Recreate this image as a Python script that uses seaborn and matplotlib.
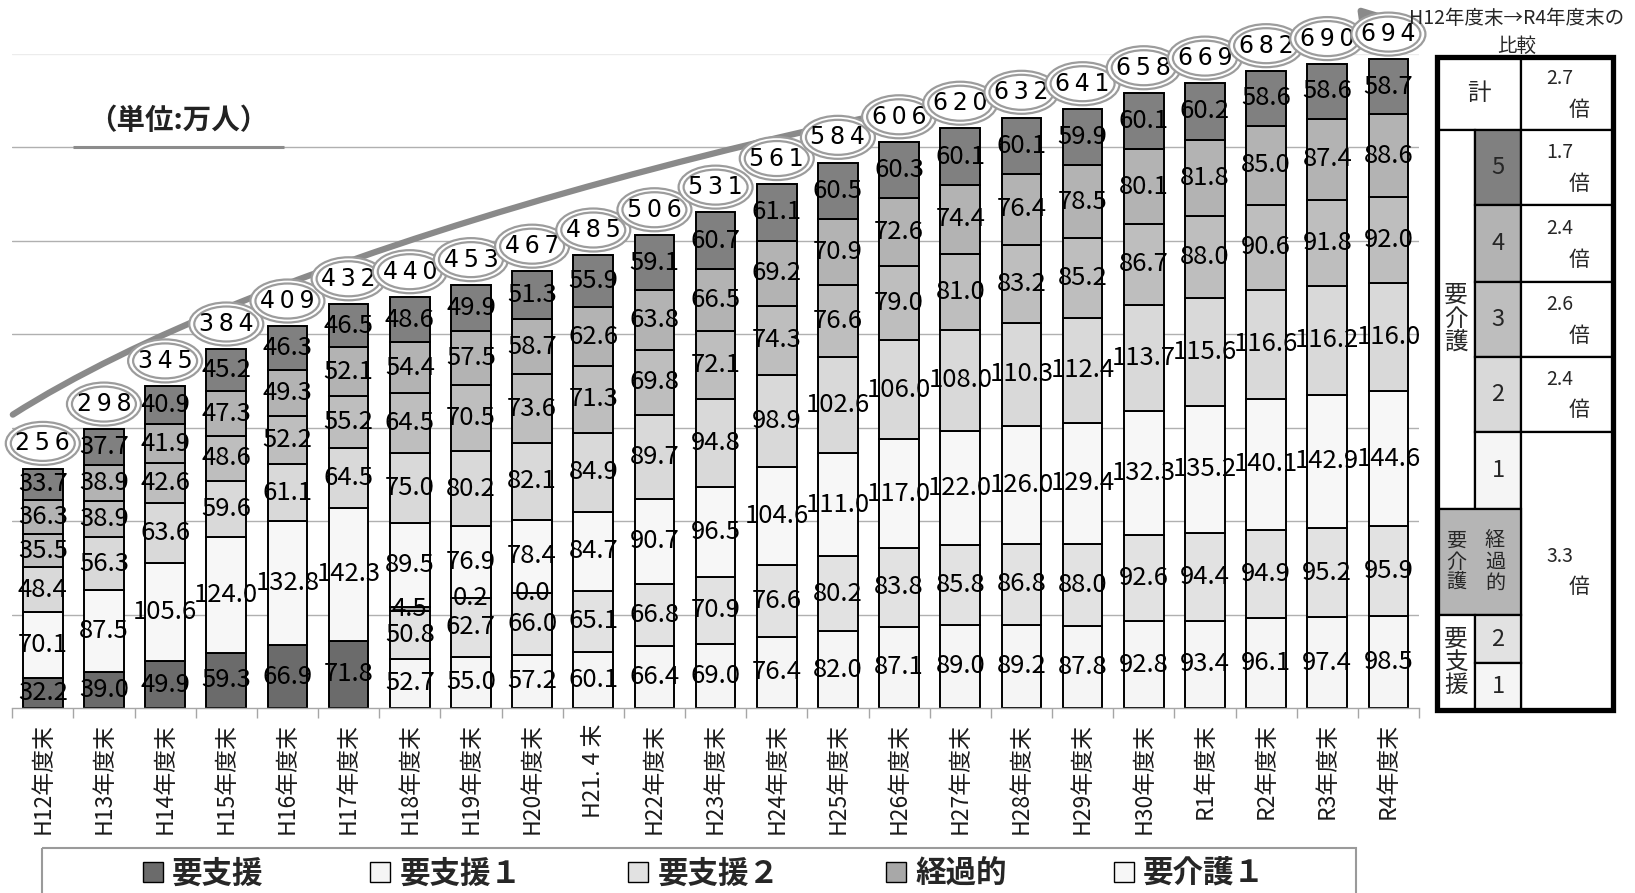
import numpy as np
import pandas as pd
import matplotlib
matplotlib.use("Agg")
import matplotlib.pyplot as plt
import seaborn as sns
from matplotlib.patches import Ellipse, Rectangle, FancyArrowPatch, Patch
from matplotlib.path import Path
from matplotlib import font_manager
from matplotlib.font_manager import FontProperties

# ---------------- data ----------------
categories = ["H12年度末", "H13年度末", "H14年度末", "H15年度末", "H16年度末", "H17年度末",
              "H18年度末", "H19年度末", "H20年度末", "H21. 4 末", "H22年度末", "H23年度末",
              "H24年度末", "H25年度末", "H26年度末", "H27年度末", "H28年度末", "H29年度末",
              "H30年度末", "R1年度末", "R2年度末", "R3年度末", "R4年度末"]
nan = np.nan
yoshien = [32.2, 39.0, 49.9, 59.3, 66.9, 71.8] + [nan] * 17
yoshien1 = [nan] * 6 + [52.7, 55.0, 57.2, 60.1, 66.4, 69.0, 76.4, 82.0, 87.1, 89.0, 89.2,
                        87.8, 92.8, 93.4, 96.1, 97.4, 98.5]
yoshien2 = [nan] * 6 + [50.8, 62.7, 66.0, 65.1, 66.8, 70.9, 76.6, 80.2, 83.8, 85.8, 86.8,
                        88.0, 92.6, 94.4, 94.9, 95.2, 95.9]
keikateki = [nan] * 6 + [4.5, 0.2, 0.0] + [nan] * 14
kaigo1 = [70.1, 87.5, 105.6, 124.0, 132.8, 142.3, 89.5, 76.9, 78.4, 84.7, 90.7, 96.5,
          104.6, 111.0, 117.0, 122.0, 126.0, 129.4, 132.3, 135.2, 140.1, 142.9, 144.6]
kaigo2 = [48.4, 56.3, 63.6, 59.6, 61.1, 64.5, 75.0, 80.2, 82.1, 84.9, 89.7, 94.8,
          98.9, 102.6, 106.0, 108.0, 110.3, 112.4, 113.7, 115.6, 116.6, 116.2, 116.0]
kaigo3 = [35.5, 38.9, 42.6, 48.6, 52.2, 55.2, 64.5, 70.5, 73.6, 71.3, 69.8, 72.1,
          74.3, 76.6, 79.0, 81.0, 83.2, 85.2, 86.7, 88.0, 90.6, 91.8, 92.0]
kaigo4 = [36.3, 38.9, 41.9, 47.3, 49.3, 52.1, 54.4, 57.5, 58.7, 62.6, 63.8, 66.5,
          69.2, 70.9, 72.6, 74.4, 76.4, 78.5, 80.1, 81.8, 85.0, 87.4, 88.6]
kaigo5 = [33.7, 37.7, 40.9, 45.2, 46.3, 46.5, 48.6, 49.9, 51.3, 55.9, 59.1, 60.7,
          61.1, 60.5, 60.3, 60.1, 60.1, 59.9, 60.1, 60.2, 58.6, 58.6, 58.7]
totals = [256, 298, 345, 384, 409, 432, 440, 453, 467, 485, 506, 531, 561, 584, 606,
          620, 632, 641, 658, 669, 682, 690, 694]

series_names = ["要支援", "要支援１", "要支援２", "経過的", "要介護１",
                "要介護２", "要介護３", "要介護４", "要介護５"]
series_values = [yoshien, yoshien1, yoshien2, keikateki, kaigo1, kaigo2, kaigo3, kaigo4, kaigo5]
colors = ["#6b6b6b", "#f5f5f5", "#e2e2e2", "#a8a8a8", "#f7f7f7",
          "#d9d9d9", "#bebebe", "#b3b3b3", "#808080"]

# ---------------- style ----------------
sns.set_theme(style="white")
plt.rcParams["font.family"] = ["Noto Sans CJK JP", "DejaVu Sans"]
CJK = ["Noto Sans CJK JP", "DejaVu Sans"]

available = {f.name for f in font_manager.fontManager.ttflist}
if "Liberation Sans Narrow" in available:
    num_family, num_size = ["Liberation Sans Narrow", "DejaVu Sans"], 21
else:
    num_family, num_size = CJK, 18.5

W_PX, H_PX = 1635, 893
fig = plt.figure(figsize=(W_PX / 100, H_PX / 100), dpi=100)
fig.patch.set_facecolor("white")
ax_left, ax_right, ax_top, ax_bottom = 12.2, 1419.0, 54.0, 708.0
ax = fig.add_axes([ax_left / W_PX, 1 - ax_bottom / H_PX,
                   (ax_right - ax_left) / W_PX, (ax_bottom - ax_top) / H_PX])
ax.set_facecolor("white")

# ---------------- stacked bars ----------------
bottoms = np.zeros(len(categories))
for name, vals, col in zip(series_names, series_values, colors):
    vals = np.asarray(vals, dtype=float)
    mask = ~np.isnan(vals)
    sub = pd.DataFrame({"区分": np.array(categories)[mask], "人数": vals[mask]})
    sns.barplot(data=sub, x="区分", y="人数", order=categories, color=col, saturation=1,
                width=0.65, edgecolor="black", linewidth=1.4, errorbar=None,
                bottom=bottoms[mask], ax=ax, zorder=2)
    ax.bar_label(ax.containers[-1], labels=[f"{v:.1f}" for v in vals[mask]],
                 label_type="center", fontsize=num_size, fontfamily=num_family,
                 color="black", zorder=3)
    bottoms[mask] += vals[mask]

# ---------------- axes ----------------
ax.set_xlabel("")
ax.set_ylabel("")
ax.set_xticks(range(len(categories)))
ax.set_xticklabels(categories, rotation=90, fontsize=16.5, color="#1a1a1a")
ax.set_xticks(np.arange(-0.5, len(categories), 1.0), minor=True)
ax.tick_params(axis="x", which="major", length=0, pad=11)
ax.tick_params(axis="x", which="minor", length=7, width=1, color="#a6a6a6",
               bottom=True, direction="out")
ax.set_yticks(range(100, 700, 100))
ax.set_yticks([700], minor=True)
ax.tick_params(axis="y", which="both", length=0, labelleft=False, left=False)
ax.yaxis.grid(True, which="major", color="#b0b0b0", lw=1.0)
ax.yaxis.grid(True, which="minor", color="#ececec", lw=1.0)
ax.xaxis.grid(False)
ax.set_axisbelow(True)
for s in ["left", "right", "top"]:
    ax.spines[s].set_visible(False)
ax.spines["bottom"].set_color("#a6a6a6")
ax.spines["bottom"].set_linewidth(1.0)

# ---------------- growth arrow ----------------
verts = [(-0.49, 314), (3.5, 480), (12.0, 640), (22.3, 735)]
curve = Path(verts, [Path.MOVETO, Path.CURVE4, Path.CURVE4, Path.CURVE4])
ax.add_patch(FancyArrowPatch(path=curve, arrowstyle="-|>,head_length=1.2,head_width=0.55",
                             mutation_scale=22, color="#8a8a8a", lw=4.5, zorder=4,
                             clip_on=False))

# ---------------- total ellipses ----------------
px_per_cat = (ax_right - ax_left) / len(categories)
px_per_unit = (ax_bottom - ax_top) / 700
lift = 27
for i, (h, t) in enumerate(zip(bottoms, totals)):
    cy = h + lift
    z = 5 + i * 0.01
    ax.add_patch(Ellipse((i, cy), 74 / px_per_cat, 43 / px_per_unit, fc="white",
                         ec="#9c9c9c", lw=1.6, zorder=z, clip_on=False))
    ax.add_patch(Ellipse((i, cy), 64 / px_per_cat, 35 / px_per_unit, fc="white",
                         ec="#9c9c9c", lw=1.6, zorder=z + 0.002, clip_on=False))
    ax.text(i, cy, "\u2009".join(str(t)), ha="center", va="center", fontsize=17,
            fontfamily=["DejaVu Sans"], color="black", zorder=z + 0.004, clip_on=False)

ax.set_xlim(-0.5, len(categories) - 0.5)
ax.set_ylim(0, 700)

# ---------------- overlay (pixel coords) ----------------
ov = fig.add_axes([0, 0, 1, 1], zorder=20)
ov.set_xlim(0, W_PX)
ov.set_ylim(H_PX, 0)
ov.axis("off")
ov.patch.set_alpha(0)

ov.text(178, 121, "（単位:万人）", ha="center", va="center", fontsize=20.5,
        fontweight="bold", color="#222222", fontfamily=CJK)
ov.plot([73, 284], [147, 147], color="#8c8c8c", lw=2.2, solid_capstyle="butt")

# comparison table
ov.text(1517, 19, "H12年度末→R4年度末の", ha="center", va="center", fontsize=14, fontfamily=CJK)
ov.text(1517, 46, "比較", ha="center", va="center", fontsize=14, fontfamily=CJK)

first = {n: v[0] for n, v in zip(series_names, series_values)}
last = {n: v[-1] for n, v in zip(series_names, series_values)}
def nz(x):
    return 0.0 if np.isnan(x) else x
ratio_total = bottoms[-1] / bottoms[0]
low_names = ["要支援", "要支援１", "要支援２", "経過的", "要介護１"]
ratio_low = sum(nz(last[n]) for n in low_names) / sum(nz(first[n]) for n in low_names)
ratio_lv = {k: last[f"要介護{k}"] / first[f"要介護{k}"] for k in ["５", "４", "３", "２"]}

TL, TC1, TC2, TR = 1437, 1475, 1521, 1613
ry = [57, 130, 205, 282, 357, 432, 509, 615, 663, 710]
cell_lw = 1.6

def cell(x0, y0, x1, y1, fc="white"):
    ov.add_patch(Rectangle((x0, y0), x1 - x0, y1 - y0, fc=fc, ec="black", lw=cell_lw, zorder=1))

def ratio_text(y0, y1, r):
    cy = (y0 + y1) / 2
    w = TR - TC2
    ov.text(TC2 + 0.42 * w, cy - 15, f"{r:.1f}", ha="center", va="center", fontsize=14, fontfamily=CJK, zorder=3)
    ov.text(TC2 + 0.63 * w, cy + 16, "倍", ha="center", va="center", fontsize=15, fontfamily=CJK, zorder=3)

cell(TL, ry[0], TC2, ry[1])
ov.text((TL + TC2) / 2, (ry[0] + ry[1]) / 2, "計", ha="center", va="center", fontsize=17, fontfamily=CJK, zorder=3)
cell(TC2, ry[0], TR, ry[1])
ratio_text(ry[0], ry[1], ratio_total)

cell(TL, ry[1], TC1, ry[6])
ov.text((TL + TC1) / 2, (ry[1] + ry[6]) / 2, "要\n介\n護", ha="center", va="center", fontsize=17,
        linespacing=1.05, fontfamily=CJK, zorder=3)
level_cells = [("5", "#808080", "５"), ("4", "#b3b3b3", "４"), ("3", "#bebebe", "３"),
               ("2", "#d9d9d9", "２"), ("1", "#f5f5f5", None)]
for j, (lab, fc, key) in enumerate(level_cells):
    y0, y1 = ry[1 + j], ry[2 + j]
    cell(TC1, y0, TC2, y1, fc)
    ov.text((TC1 + TC2) / 2, (y0 + y1) / 2, lab, ha="center", va="center", fontsize=17, fontfamily=CJK, zorder=3)
    if key is not None:
        cell(TC2, y0, TR, y1)
        ratio_text(y0, y1, ratio_lv[key])
cell(TC2, ry[5], TR, ry[9])
ratio_text(ry[5], ry[9], ratio_low)

cell(TL, ry[6], TC2, ry[7], "#b5b5b5")
cy_k = (ry[6] + ry[7]) / 2
ov.text(1456, cy_k, "要\n介\n護", ha="center", va="center", fontsize=14.5, linespacing=1.0, fontfamily=CJK, zorder=3)
ov.text(1495, cy_k, "経\n過\n的", ha="center", va="center", fontsize=14.5, linespacing=1.0, fontfamily=CJK, zorder=3)

cell(TL, ry[7], TC1, ry[9])
ov.text((TL + TC1) / 2, (ry[7] + ry[9]) / 2, "要\n支\n援", ha="center", va="center", fontsize=17,
        linespacing=1.0, fontfamily=CJK, zorder=3)
cell(TC1, ry[7], TC2, ry[8], "#e2e2e2")
ov.text((TC1 + TC2) / 2, (ry[7] + ry[8]) / 2, "2", ha="center", va="center", fontsize=17, fontfamily=CJK, zorder=3)
cell(TC1, ry[8], TC2, ry[9], "#f5f5f5")
ov.text((TC1 + TC2) / 2, (ry[8] + ry[9]) / 2, "1", ha="center", va="center", fontsize=17, fontfamily=CJK, zorder=3)
ov.add_patch(Rectangle((TL, ry[0]), TR - TL, ry[9] - ry[0], fill=False, ec="black", lw=3.8, zorder=4))

# ---------------- legend ----------------
handles = [Patch(facecolor=colors[i], edgecolor="black", linewidth=1.0) for i in range(5)]
fig.legend(handles, series_names[:5], loc="center left", bbox_to_anchor=(143 / W_PX, 1 - 874 / H_PX),
           ncol=5, frameon=False, prop=FontProperties(family=CJK, weight="bold", size=22),
           handlelength=0.65, handleheight=0.65, handletextpad=0.3, columnspacing=3.5,
           borderpad=0, borderaxespad=0)
ov.add_patch(Rectangle((42, 848), 1314, 80, fill=False, ec="#9a9a9a", lw=1.5, zorder=1))

fig.savefig("out.png", dpi=100, facecolor="white")
